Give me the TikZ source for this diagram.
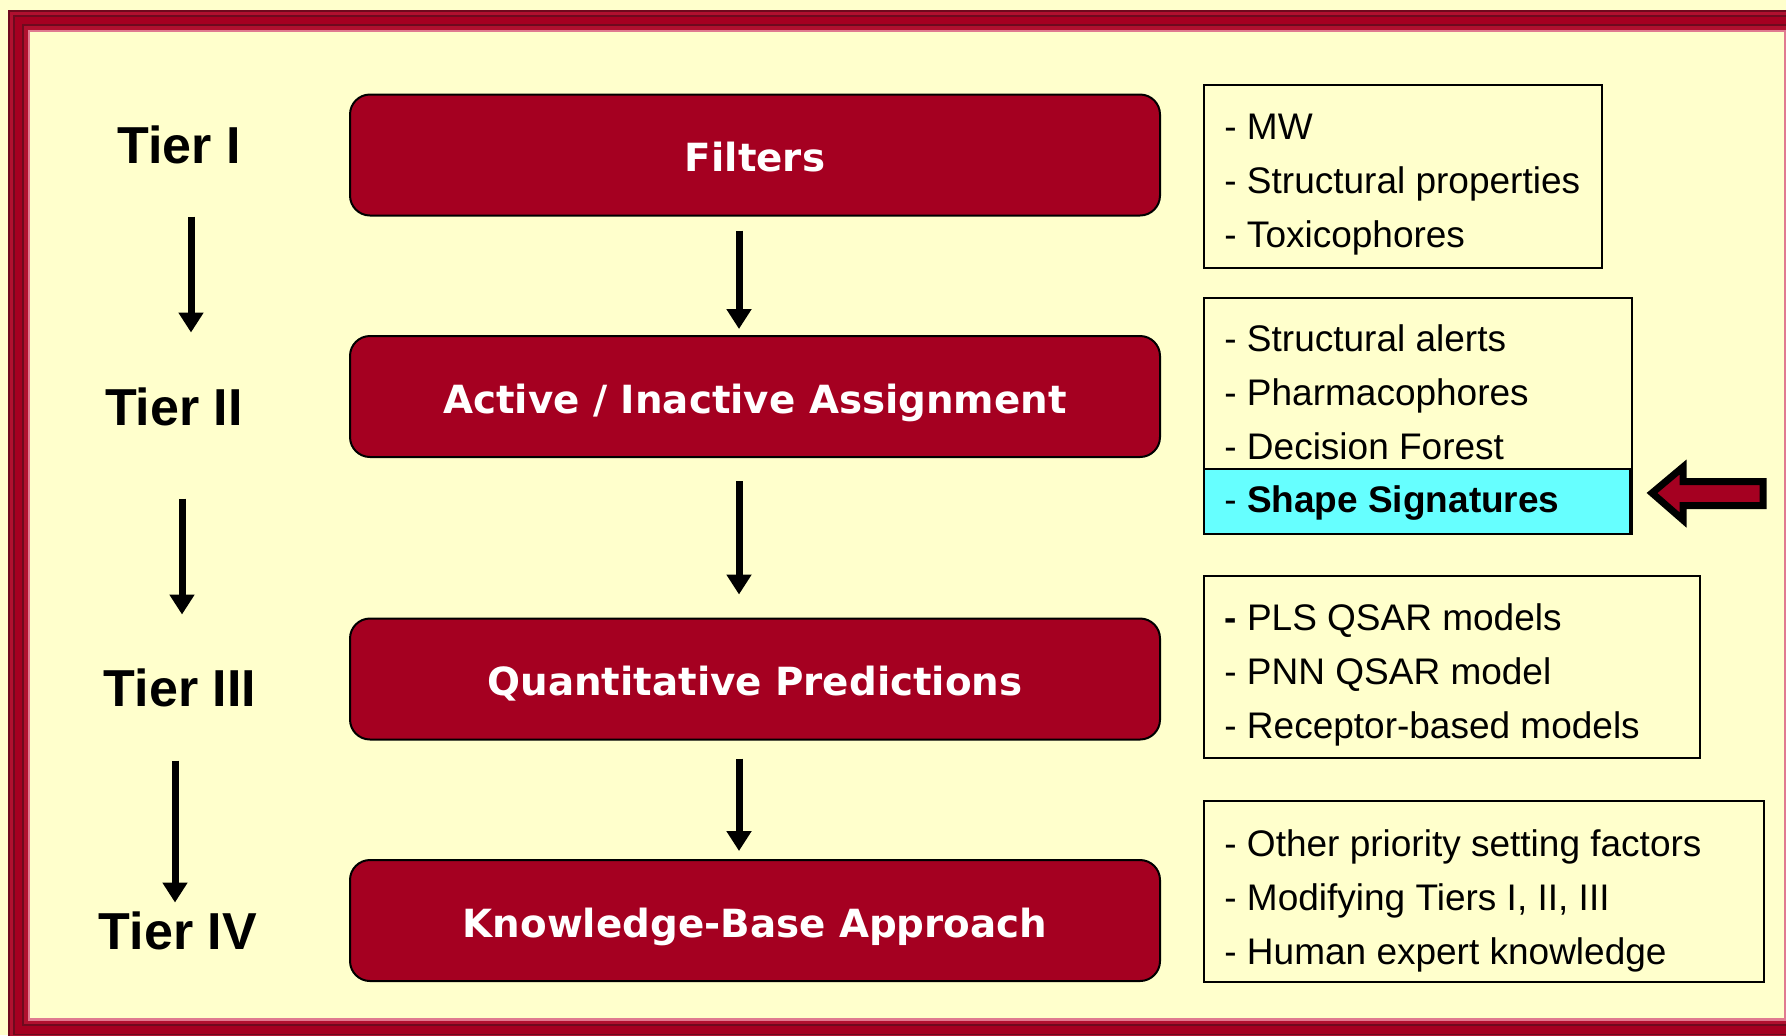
\documentclass[tikz,border=0pt]{standalone}
\usepackage{fontspec}
\setmainfont{Liberation Sans}
\newfontfamily\stagefont{DejaVu Sans}
\usetikzlibrary{arrows.meta,calc}
\definecolor{cream}{HTML}{FFFFCC}
\definecolor{tierred}{HTML}{A50021}
\definecolor{framedark}{HTML}{6E0A1E}
\definecolor{framered}{HTML}{B0102F}
\definecolor{framepink}{HTML}{E07A90}
\definecolor{sigcyan}{HTML}{66FFFF}
\begin{document}
\begin{tikzpicture}[x=0.5pt,y=-0.5pt,
  tier/.style={font=\fontsize{26}{30}\selectfont\bfseries, inner sep=0pt},
  stage/.style={draw=black, line width=1pt, fill=tierred, rounded corners=10pt,
    minimum width=405pt, minimum height=60.5pt},
  stagetext/.style={text=white, inner sep=0pt, text depth=0pt,
    font=\stagefont\fontsize{19.4}{24}\selectfont\bfseries},
  flow/.style={line width=3.5pt, -{Triangle[width=12pt,length=10pt]}},
  listtext/.style={align=left, anchor=west, inner xsep=10.5pt, inner ysep=0pt,
    font=\fontsize{18.5}{27}\selectfont},
  listbox/.style={draw=black, line width=1pt, anchor=north west, inner sep=0pt},
]
% page and background
\useasboundingbox (0,0) rectangle (1786,1035);
\fill[cream] (0,0) rectangle (1786,1035);
\begin{scope}
\clip (0,0) rectangle (1786,1035);
\foreach \o/\c in {0/framedark,2/framered,5/framedark,6.5/tierred,14/framedark,16/framered,19.5/framepink}
  \fill[\c] (8+\o,10+\o) rectangle (1806-\o,1040-\o);
\fill[cream] (30,32) rectangle (1784,1018);
\end{scope}

% tier labels
\node[tier] (t1) at (179,145) {Tier I};
\node[tier] (t2) at (174,407) {Tier II};
\node[tier] (t3) at (180,688) {Tier III};
\node[tier] (t4) at (178,931) {Tier IV};

\draw[flow, shorten <=26pt, shorten >=27.5pt]
  ($(t1.south)+(6pt,0)$) -- ($(t1.south |- t2.north)+(6pt,0)$);
\draw[flow, shorten <=36pt, shorten >=27pt]
  ($(t2.south)+(4pt,0)$) -- ($(t2.south |- t3.north)+(4pt,0)$);
\draw[flow, shorten <=26.5pt, shorten >=4.5pt]
  ($(t3.south)+(-2.5pt,0)$) -- ($(t3.south |- t4.north)+(-2.5pt,0)$);

% stages
\node[stage] (f) at (755,155) {};
\node[stage] (a) at (755,396.5) {};
\node[stage] (q) at (755,679) {};
\node[stage] (k) at (755,920.5) {};
\node[stagetext] at ([yshift=-1pt]f.center) {Filters};
\node[stagetext] at ([yshift=-1pt]a.center) {Active / Inactive Assignment};
\node[stagetext] at ([yshift=-1pt]q.center) {Quantitative Predictions};
\node[stagetext] at ([yshift=-1pt]k.center) {Knowledge-Base Approach};

\draw[flow, shorten <=7pt, shorten >=3pt] ([xshift=-8pt]f.south) -- ([xshift=-8pt]a.north);
\draw[flow, shorten <=11.5pt, shorten >=11.5pt] ([xshift=-8pt]a.south) -- ([xshift=-8pt]q.north);
\draw[flow, shorten <=9pt, shorten >=4pt] ([xshift=-8pt]q.south) -- ([xshift=-8pt]k.north);

% method lists
\node[listbox, minimum width=199pt, minimum height=91.5pt] (m1) at (1203,84) {};
\node[listtext] at (1203,185)
  {- MW\\- Structural properties\\- Toxicophores};

\node[listbox, minimum width=214pt, minimum height=118pt] (m2) at (1203,297) {};
\node[listtext] at (1203,392)
  {- Structural alerts\\- Pharmacophores\\- Decision Forest};
\node[listbox, fill=sigcyan, minimum width=213pt, minimum height=32.5pt] (sig) at (1203,468) {};
\node[listtext, font=\fontsize{18.5}{27}\selectfont\bfseries] at ([yshift=-1pt]sig.west)
  {\mdseries-\bfseries{} Shape Signatures};

\node[listbox, minimum width=248pt, minimum height=91pt] (m3) at (1203,575) {};
\node[listtext] at (1203,674.5)
  {\textbf{-} PLS QSAR models\\- PNN QSAR model\\- Receptor-based models};

\node[listbox, minimum width=280pt, minimum height=90.5pt] (m4) at (1203,800) {};
\node[listtext] at (1203,900.5)
  {- Other priority setting factors\\- Modifying Tiers I, II, III\\- Human expert knowledge};

% pointer at the highlighted method
\draw[line width=3.5pt, line join=miter, fill=tierred]
  (1652,493) -- (1683,467) -- (1683,481.5) -- (1763,481.5) -- (1763,505.5)
  -- (1683,505.5) -- (1683,520) -- cycle;
\end{tikzpicture}
\end{document}
